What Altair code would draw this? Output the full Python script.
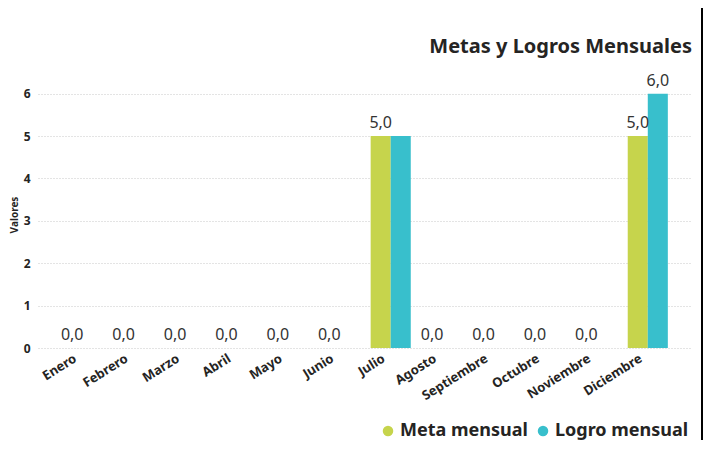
import altair as alt
import pandas as pd

months = ["Enero", "Febrero", "Marzo", "Abril", "Mayo", "Junio", "Julio",
          "Agosto", "Septiembre", "Octubre", "Noviembre", "Diciembre"]
meta = [0, 0, 0, 0, 0, 0, 5, 0, 0, 0, 0, 5]
logro = [0, 0, 0, 0, 0, 0, 5, 0, 0, 0, 0, 6]
series = ["Meta mensual", "Logro mensual"]
colors = ["#C6D44C", "#38BFCC"]
FONT = "Segoe UI, Noto Sans, sans-serif"

rows = []
for m, a, b in zip(months, meta, logro):
    rows.append({"Mes": m, "Serie": series[0], "Valor": a})
    rows.append({"Mes": m, "Serie": series[1], "Valor": b})
df = pd.DataFrame(rows)

# Data labels: every Meta label; a Logro label only where it does not overlap
# the Meta label (i.e. where the two values differ), as in the original.
label_rows = []
for m, a, b in zip(months, meta, logro):
    label_rows.append({"Mes": m, "Serie": series[0], "Valor": a})
    if b != a:
        label_rows.append({"Mes": m, "Serie": series[1], "Valor": b})
label_df = pd.DataFrame(label_rows)

W, H = 654, 267
x_enc = alt.X("Mes:N", sort=months,
              scale=alt.Scale(paddingInner=0.22, paddingOuter=0.47),
              axis=alt.Axis(title=None, labelAngle=-32, labelAlign="right",
                            labelBaseline="top", labelFontWeight="bold",
                            labelFontSize=13, labelColor="#252423",
                            ticks=False, domain=False, labelPadding=4,
                            labelOffset=-10, labelFont=FONT))
y_scale = alt.Scale(domain=[0, 6.3], nice=False)
xoff = alt.XOffset("Serie:N", sort=series, scale=alt.Scale(paddingInner=0))

bars = alt.Chart(df).mark_bar().encode(
    x=x_enc,
    xOffset=xoff,
    y=alt.Y("Valor:Q", scale=y_scale,
            axis=alt.Axis(title="Valores", values=[0, 1, 2, 3, 4, 5, 6],
                          labelFontWeight="bold", labelFontSize=12,
                          labelColor="#252423", titleFontSize=10,
                          titleFontWeight="bold", titleColor="#252423",
                          titlePadding=4, ticks=False, domain=False,
                          labelPadding=8, gridColor="#C8C8C8",
                          gridDash=[1, 2], labelFont=FONT, titleFont=FONT)),
    color=alt.Color("Serie:N", sort=series,
                    scale=alt.Scale(domain=series, range=colors),
                    legend=alt.Legend(title=None, orient="none", direction="horizontal",
                                      legendX=341, legendY=H + 74,
                                      symbolType="circle", symbolSize=110,
                                      labelFontSize=18, labelFontWeight="bold",
                                      labelColor="#252423", labelFont=FONT,
                                      columnPadding=6, symbolOffset=0,
                                      labelOffset=3)),
)

labels = alt.Chart(label_df).transform_calculate(
    lbl="replace(format(datum.Valor, '.1f'), '.', ',')"
).mark_text(fontSize=16, color="#333333", baseline="bottom", dy=-5, font=FONT).encode(
    x=alt.X("Mes:N", sort=months),
    xOffset=alt.XOffset("Serie:N", sort=series),
    y=alt.Y("Valor:Q", scale=y_scale),
    text="lbl:N",
)

border = alt.Chart(df).mark_rule(color="#000000", strokeWidth=1.5).encode(
    x=alt.value(664), y=alt.value(-73), y2=alt.value(359)
)

chart = alt.layer(bars, labels, border).properties(
    width=W, height=H,
    autosize=alt.AutoSizeParams(type="none"),
    padding={"left": 30, "top": 73, "right": 695 - 30 - W, "bottom": 433 - 73 - H},
    title=alt.Title("Metas y Logros Mensuales", anchor="end", fontSize=20,
                    fontWeight="bold", color="#252423", font=FONT,
                    offset=0, dy=50, frame="group"),
).configure_view(stroke=None)

chart.save("out.html", embed_options={"renderer": "svg", "actions": False})
